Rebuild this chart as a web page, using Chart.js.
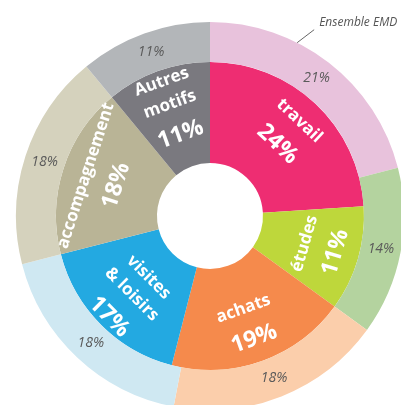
<!DOCTYPE html>
<html>
<head>
<meta charset="utf-8">
<script src="https://cdn.jsdelivr.net/npm/chart.js@4.4.0/dist/chart.umd.min.js"></script>
<style>
  html, body { margin: 0; padding: 0; background: #fff; overflow: hidden; width: 401px; height: 405px; }
  #wrap { position: absolute; left: 10px; top: 16px; width: 400px; height: 400px; }
</style>
</head>
<body>
<div id="wrap"><canvas id="myChart"></canvas></div>
<script>
// motifs de deplacement (anneau interieur) et ensemble EMD (anneau exterieur)
const motifLabels = [['travail'], ['études'], ['achats'], ['visites', '& loisirs'], ['accompagnement'], ['Autres', 'motifs']];
const motifValues = [24, 11, 19, 17, 18, 11];
const emdValues = [21, 14, 18, 18, 18, 11];
const emdName = 'Ensemble EMD';

const innerColors = ['#EE2D72', '#BED73B', '#F58A4C', '#23A9E1', '#B9B496', '#7A797F'];
const outerColors = ['#E8C2DC', '#B4D39F', '#FBCEAB', '#CFE8F2', '#D5D2BD', '#B3B6B9'];

const FONT = '"Open Sans", sans-serif';

function uprightAngle(mid) {
  let rot = mid + Math.PI / 2;
  while (rot > Math.PI) rot -= 2 * Math.PI;
  while (rot <= -Math.PI) rot += 2 * Math.PI;
  if (rot > Math.PI / 2) rot -= Math.PI;
  if (rot < -Math.PI / 2) rot += Math.PI;
  return rot;
}

const labelPlugin = {
  id: 'labels',
  afterDatasetsDraw(chart) {
    const ctx = chart.ctx;
    ctx.save();
    ctx.textAlign = 'center';
    ctx.textBaseline = 'middle';

    // outer ring: italic grey percentages
    const outerMeta = chart.getDatasetMeta(0);
    outerMeta.data.forEach((arc, i) => {
      const p = arc.getProps(['x', 'y', 'startAngle', 'endAngle', 'innerRadius', 'outerRadius'], true);
      const mid = (p.startAngle + p.endAngle) / 2;
      const r = (p.innerRadius + p.outerRadius) / 2;
      ctx.font = 'italic 14px ' + FONT;
      ctx.fillStyle = '#5a5a5a';
      ctx.fillText(emdValues[i] + '%', p.x + r * Math.cos(mid), p.y + r * Math.sin(mid));
    });

    // leader + "Ensemble EMD"
    const first = outerMeta.data[0].getProps(['x', 'y', 'outerRadius'], true);
    const a = -Math.PI / 2 + 26.7 * Math.PI / 180;
    const x0 = first.x + first.outerRadius * Math.cos(a);
    const y0 = first.y + first.outerRadius * Math.sin(a);
    ctx.strokeStyle = '#666';
    ctx.lineWidth = 1;
    ctx.beginPath();
    ctx.moveTo(x0, y0);
    ctx.lineTo(x0 + 17, y0 - 13);
    ctx.stroke();
    ctx.font = 'italic 12px ' + FONT;
    ctx.fillStyle = '#555';
    ctx.textAlign = 'left';
    ctx.fillText(emdName, x0 + 22, y0 - 20);
    ctx.textAlign = 'center';

    // inner ring: white bold rotated labels
    const innerMeta = chart.getDatasetMeta(1);
    innerMeta.data.forEach((arc, i) => {
      const p = arc.getProps(['x', 'y', 'startAngle', 'endAngle', 'innerRadius', 'outerRadius'], true);
      const mid = (p.startAngle + p.endAngle) / 2;
      const r = p.innerRadius + (p.outerRadius - p.innerRadius) * 0.61;
      const lines = motifLabels[i].map(t => ({ text: t, size: 17 }));
      lines.push({ text: motifValues[i] + '%', size: 23 });
      const offs = [0];
      for (let k = 1; k < lines.length; k++) {
        offs.push(offs[k - 1] + (lines[k].size > 20 ? 32 : 24));
      }
      const shift = offs[offs.length - 1] / 2;
      ctx.save();
      ctx.translate(p.x + r * Math.cos(mid), p.y + r * Math.sin(mid));
      ctx.rotate(uprightAngle(mid));
      ctx.fillStyle = '#fff';
      lines.forEach((l, k) => {
        ctx.font = 'bold ' + l.size + 'px ' + FONT;
        ctx.fillText(l.text, 0, offs[k] - shift);
      });
      ctx.restore();
    });
    ctx.restore();
  }
};

const ctx = document.getElementById('myChart').getContext('2d');
const chart = new Chart(ctx, {
  type: 'doughnut',
  data: {
    labels: motifLabels.map(l => l.join(' ')),
    datasets: [{
      label: emdName,
      data: emdValues,
      backgroundColor: outerColors,
      borderWidth: 0,
      weight: 40
    }, {
      label: 'Motifs',
      data: motifValues,
      backgroundColor: innerColors,
      borderWidth: 0,
      weight: 101
    }]
  },
  options: {
    responsive: true,
    maintainAspectRatio: false,
    animation: false,
    cutout: 53,
    layout: { padding: 6 },
    plugins: {
      legend: { display: false },
      tooltip: { enabled: false }
    }
  },
  plugins: [labelPlugin]
});
</script>
</body>
</html>
